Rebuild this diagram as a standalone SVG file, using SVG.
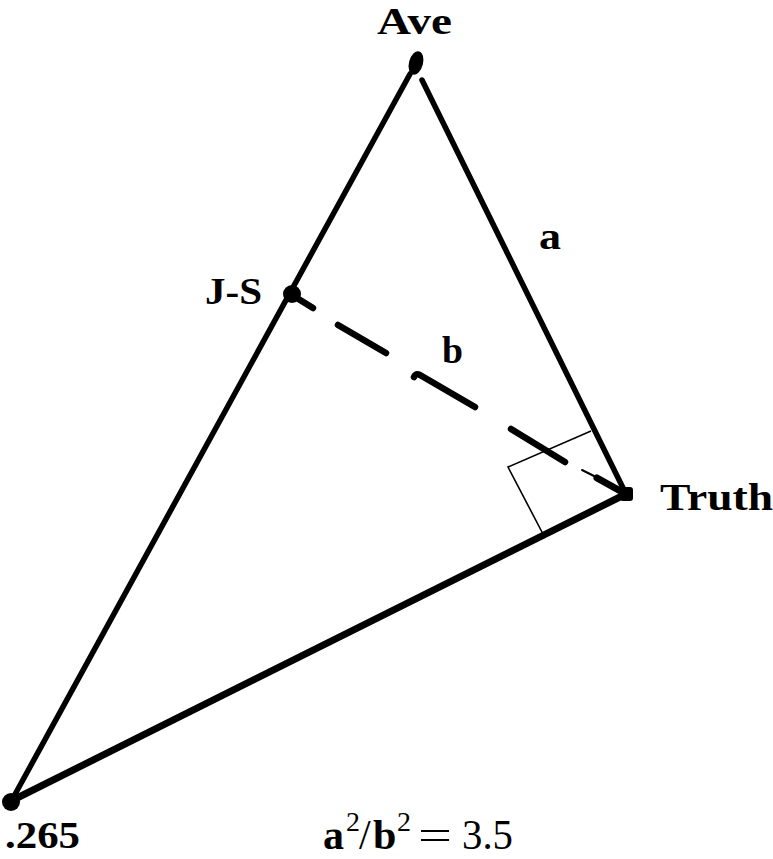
<svg xmlns="http://www.w3.org/2000/svg" width="773" height="859" viewBox="0 0 773 859">
<style>
.edge{stroke:#000;fill:none;stroke-linecap:round;stroke-linejoin:round}
.thin{stroke:#000;fill:none;stroke-width:1.6}
.lbl{font-family:"Liberation Serif","DejaVu Serif",serif;font-weight:bold;font-size:38px;fill:#000}
.math{font-family:"Liberation Serif","DejaVu Serif",serif;font-size:42px;fill:#000}
</style>
<rect width="773" height="859" fill="#fff"/>
<g id="connectors">
<line class="edge" x1="410" y1="74" x2="13" y2="798" stroke-width="5.5"/>
<line class="edge" x1="422" y1="80" x2="626" y2="494" stroke-width="5.5"/>
<line class="edge" x1="626" y1="494" x2="13" y2="800" stroke-width="7"/>
<g id="dashed-b" class="edge" stroke-width="6.5">
<line x1="292" y1="295" x2="313" y2="308"/>
<line x1="338" y1="325" x2="386" y2="353"/>
<path d="M414 377 Q416 373 420 375 L475 407"/>
<line x1="511" y1="429" x2="565" y2="462"/>
<line x1="582" y1="470" x2="596" y2="477" stroke-width="2"/>
<line x1="597" y1="478" x2="624" y2="493" stroke-width="7"/>
</g>
<polyline class="thin" points="591,431 508,467 543,534"/>
</g>
<g id="node-ave">
<ellipse cx="416" cy="63" rx="7" ry="12" transform="rotate(15 416 63)" fill="#000"/>
<text class="lbl" x="377" y="34" textLength="75" lengthAdjust="spacingAndGlyphs">Ave</text>
</g>
<g id="node-js">
<circle cx="292" cy="294" r="9" fill="#000"/>
<text class="lbl" x="205" y="304" textLength="57" lengthAdjust="spacingAndGlyphs">J-S</text>
</g>
<g id="node-truth">
<rect x="620" y="487" width="13" height="14" rx="3" fill="#000"/>
<text class="lbl" x="660" y="510" textLength="113" lengthAdjust="spacingAndGlyphs">Truth</text>
</g>
<g id="node-265">
<circle cx="11" cy="802" r="9" fill="#000"/>
<text class="lbl" x="5" y="848" textLength="75" lengthAdjust="spacingAndGlyphs">.265</text>
</g>
<g id="labels">
<text class="lbl" x="539" y="249" textLength="22" lengthAdjust="spacingAndGlyphs">a</text>
<text class="lbl" x="442" y="363" textLength="21" lengthAdjust="spacingAndGlyphs">b</text>
<text class="math" y="849"><tspan x="323" font-weight="bold">a</tspan><tspan x="346" y="831" font-size="28">2</tspan><tspan x="359" y="849">/</tspan><tspan x="373" font-weight="bold">b</tspan><tspan x="397" y="831" font-size="28">2</tspan></text>
<text class="math" x="418" y="849" textLength="34" lengthAdjust="spacingAndGlyphs">=</text>
<text class="math" x="462" y="849" textLength="51" lengthAdjust="spacingAndGlyphs">3.5</text>
</g>
</svg>
